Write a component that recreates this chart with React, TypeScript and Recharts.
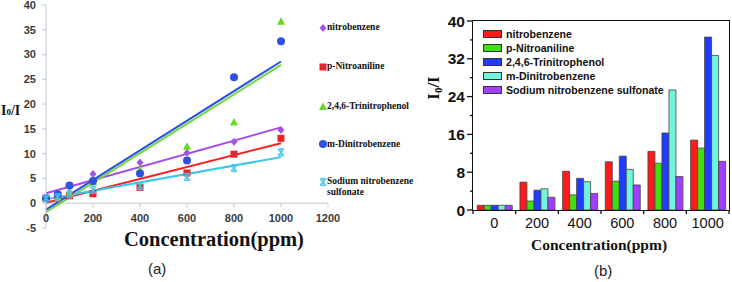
import React from 'react';
import { ComposedChart, Line, Scatter, XAxis, YAxis, ReferenceLine, BarChart, Bar } from 'recharts';

// concentrations (ppm) measured in panel (a)
const CONC = [0, 50, 100, 200, 400, 600, 800, 1000];
const NITROBENZENE = [1, 1.5, 3.4, 5.9, 8.2, 10.2, 12.4, 14.8];
const P_NITROANILINE = [1, 1.0, 1.5, 1.9, 3.2, 6.1, 9.9, 13.1];
const TRINITROPHENOL = [1, 1.2, 2.0, 4.2, 6.7, 11.4, 16.3, 36.6];
const M_DINITROBENZENE = [1, 1.8, 3.6, 4.5, 6.0, 8.6, 25.4, 32.7];
const SODIUM_SULFONATE = [1, 1.2, 1.8, 2.7, 3.5, 5.3, 7.1, 10.3];

// linear fits, at 0 and 1000 ppm
const FIT_X = [0, 1000];
const FIT_NITROBENZENE = [2.0, 15.3];
const FIT_P_NITROANILINE = [0.1, 12.1];
const FIT_TRINITROPHENOL = [-1.8, 27.9];
const FIT_M_DINITROBENZENE = [-1.3, 28.6];
const FIT_SODIUM_SULFONATE = [0.8, 9.3];

// panel (b) categories
const BAR_CONC = [0, 200, 400, 600, 800, 1000];

const X_TICKS_A = [0, 200, 400, 600, 800, 1000, 1200];
const Y_TICKS_A = [-5, 0, 5, 10, 15, 20, 25, 30, 35, 40];
const Y_TICKS_B = [0, 4, 8, 12, 16, 20, 24, 28, 32, 36, 40];

const NAMES = [
  'nitrobenzene',
  'p-Nitroaniline',
  '2,4,6-Trinitrophenol',
  'm-Dinitrobenzene',
  'Sodium nitrobenzene sulfonate',
];
const VALUES = [NITROBENZENE, P_NITROANILINE, TRINITROPHENOL, M_DINITROBENZENE, SODIUM_SULFONATE];
const FITS = [FIT_NITROBENZENE, FIT_P_NITROANILINE, FIT_TRINITROPHENOL, FIT_M_DINITROBENZENE, FIT_SODIUM_SULFONATE];

const A_COLORS = ['#a055e0', '#e8232b', '#5fdc1e', '#2e52e0', '#45c6e8'];
const A_LINE_COLORS = ['#a64bf0', '#ff1f1f', '#6cd83a', '#2f4fe0', '#3cc5e8'];
const B_COLORS = ['#ff1a1a', '#3ee00e', '#1f3cff', '#70f5dc', '#a040ff'];

const SERIF = '"Liberation Serif", "Times New Roman", serif';
const SANS = '"Liberation Sans", Arial, sans-serif';

const A_PLOT_H = 282 - 5 - 54;
const ZERO_OFFSET = (A_PLOT_H * 5) / 45;
const B_BAND = 256 / BAR_CONC.length;

const pointsOf = (vals: number[]) => CONC.map((x, i) => ({ x, y: vals[i] }));
const fitOf = (vals: number[]) => FIT_X.map((x, i) => ({ x, y: vals[i] }));

const barRows = BAR_CONC.map((c) => {
  const i = CONC.indexOf(c);
  const row: Record<string, any> = { c: String(c) };
  NAMES.forEach((n, k) => (row[n] = VALUES[k][i]));
  return row;
});

// markers, panel (a)
const Diamond = ({ cx, cy, fill }: any) => (
  <path d={`M${cx},${cy - 4}L${cx + 3.5},${cy}L${cx},${cy + 4}L${cx - 3.5},${cy}Z`} fill={fill} />
);
const Square = ({ cx, cy, fill }: any) => <rect x={cx - 3.5} y={cy - 3.5} width={7} height={7} fill={fill} />;
const Triangle = ({ cx, cy, fill }: any) => (
  <path d={`M${cx},${cy - 4.5}L${cx + 4},${cy + 3}L${cx - 4},${cy + 3}Z`} fill={fill} />
);
const Dot = ({ cx, cy, fill }: any) => <circle cx={cx} cy={cy} r={4} fill={fill} />;
const Star = ({ cx, cy, fill }: any) => (
  <g stroke={fill} strokeWidth={1.3}>
    <line x1={cx - 3} y1={cy - 3} x2={cx + 3} y2={cy + 3} />
    <line x1={cx - 3} y1={cy + 3} x2={cx + 3} y2={cy - 3} />
    <line x1={cx} y1={cy - 3.5} x2={cx} y2={cy + 3.5} />
    <line x1={cx - 2.5} y1={cy - 3.5} x2={cx + 2.5} y2={cy - 3.5} />
    <line x1={cx - 2.5} y1={cy + 3.5} x2={cx + 2.5} y2={cy + 3.5} />
  </g>
);
const SHAPES = [Diamond, Square, Triangle, Dot, Star];

const TickAX = ({ x, y, payload }: any) => {
  const y0 = y - ZERO_OFFSET;
  return (
    <g>
      <line x1={x} x2={x} y1={y0} y2={y0 + 4} stroke="#c3cad4" />
      <text x={x} y={y0 + 19} textAnchor="middle" fontFamily={SANS} fontWeight="bold" fontSize={11} fill="#3a3a3a">
        {payload.value}
      </text>
    </g>
  );
};

const TickBX = ({ x, y, payload, index }: any) => (
  <g>
    <line x1={x + B_BAND / 2} x2={x + B_BAND / 2} y1={y} y2={y + 4} stroke="#111" strokeWidth={1.3} />
    {index === 0 && <line x1={x - B_BAND / 2} x2={x - B_BAND / 2} y1={y} y2={y + 4} stroke="#111" strokeWidth={1.3} />}
    <text x={x} y={y + 18} textAnchor="middle" fontFamily={SANS} fontSize={14.5} fill="#111">
      {payload.value}
    </text>
  </g>
);

const TickBY = ({ x, y, payload }: any) => {
  const major = payload.value % 8 === 0;
  return (
    <g>
      <line x1={x - (major ? 6 : 3)} x2={x} y1={y} y2={y} stroke="#111" strokeWidth={1.3} />
      {major && (
        <text x={x - 8} y={y + 5.5} textAnchor="end" fontFamily={SANS} fontWeight="bold" fontSize={15.5} fill="#111">
          {payload.value}
        </text>
      )}
    </g>
  );
};

const abs = (left: number, top: number, extra: React.CSSProperties = {}): React.CSSProperties => ({
  position: 'absolute',
  left,
  top,
  whiteSpace: 'nowrap',
  lineHeight: 1,
  ...extra,
});

const LEGEND_A_TOP = [27.5, 66.5, 106.5, 144, 181.5];

const LegendA = () => (
  <>
    {NAMES.map((n, k) => {
      const Shape = SHAPES[k];
      const lines = k === 4 ? ['Sodium nitrobenzene', 'sulfonate'] : [n];
      return (
        <div key={n} style={abs(318, LEGEND_A_TOP[k] - 5, { fontFamily: SERIF, fontWeight: 'bold', fontSize: 9.5, color: '#111' })}>
          <svg width={10} height={10} style={{ position: 'absolute', left: 0, top: 0 }}>
            <Shape cx={5} cy={5} fill={A_COLORS[k]} />
          </svg>
          <div style={{ position: 'absolute', left: 9, top: 0.5 }}>
            {lines.map((t) => (
              <div key={t} style={{ height: 11 }}>{t}</div>
            ))}
          </div>
        </div>
      );
    })}
  </>
);

const LegendB = () => (
  <>
    {NAMES.map((n, k) => (
      <div key={n} style={abs(483, 28.5 + k * 14.2, { fontFamily: SANS, fontWeight: 'bold', fontSize: 10.6, color: '#111' })}>
        <div style={{ position: 'absolute', left: 0, top: 1, width: 19, height: 8, background: B_COLORS[k], border: '1px solid #333', boxSizing: 'border-box' }} />
        <div style={{ position: 'absolute', left: 23, top: 0 }}>{n}</div>
      </div>
    ))}
  </>
);

export default function App() {
  return (
    <div style={{ position: 'relative', width: 732, height: 282, background: '#fff', overflow: 'hidden' }}>
      <style>{'body{margin:0}'}</style>

      <div style={abs(0, 0)}>
        <ComposedChart width={340} height={282} margin={{ top: 5, right: 12, bottom: 0, left: 0 }}>
          <XAxis
            type="number"
            dataKey="x"
            domain={[0, 1200]}
            ticks={X_TICKS_A}
            interval={0}
            axisLine={false}
            tickLine={false}
            tickSize={0}
            tickMargin={0}
            height={54}
            tick={<TickAX />}
          />
          <YAxis
            type="number"
            dataKey="y"
            domain={[-5, 40]}
            ticks={Y_TICKS_A}
            interval={0}
            width={46}
            axisLine={{ stroke: '#c3cad4' }}
            tickLine={{ stroke: '#c3cad4' }}
            tickSize={4}
            tickMargin={6}
            tick={{ fontFamily: SANS, fontWeight: 'bold', fontSize: 11, fill: '#3a3a3a' }}
          />
          <ReferenceLine y={0} stroke="#c3cad4" />
          {FITS.map((f, k) => (
            <Line
              key={'fit' + k}
              data={fitOf(f)}
              dataKey="y"
              stroke={A_LINE_COLORS[k]}
              strokeWidth={2}
              dot={false}
              activeDot={false}
              legendType="none"
              isAnimationActive={false}
            />
          ))}
          {VALUES.map((v, k) => (
            <Scatter
              key={NAMES[k]}
              name={NAMES[k]}
              data={pointsOf(v)}
              fill={A_COLORS[k]}
              shape={SHAPES[k]}
              isAnimationActive={false}
            />
          ))}
        </ComposedChart>
      </div>

      <LegendA />

      <div style={abs(1, 104, { fontFamily: SERIF, fontWeight: 'bold', fontSize: 14, color: '#111' })}>
        I<span style={{ fontSize: 9 }}>0</span>/I
      </div>
      <div style={abs(124, 229, { fontFamily: SERIF, fontWeight: 'bold', fontSize: 20.5, color: '#111' })}>
        Concentration(ppm)
      </div>
      <div style={abs(148, 261, { fontFamily: SANS, fontSize: 15, color: '#222' })}>(a)</div>

      <div style={abs(400, 0)}>
        <BarChart
          width={332}
          height={282}
          data={barRows}
          margin={{ top: 21, right: 3, bottom: 0, left: 0 }}
          barCategoryGap="10%"
          barGap={0}
        >
          <XAxis
            dataKey="c"
            interval={0}
            axisLine={false}
            tickLine={false}
            tickSize={0}
            tickMargin={0}
            height={72}
            tick={<TickBX />}
          />
          <YAxis
            type="number"
            domain={[0, 40]}
            ticks={Y_TICKS_B}
            interval={0}
            width={73}
            axisLine={false}
            tickLine={false}
            tickSize={0}
            tickMargin={0}
            tick={<TickBY />}
          />
          {NAMES.map((n, k) => (
            <Bar key={n} dataKey={n} fill={B_COLORS[k]} stroke="#444" strokeWidth={0.8} isAnimationActive={false} />
          ))}
        </BarChart>
      </div>

      <div
        style={abs(472.3, 20.3, {
          width: 257.4,
          height: 190.4,
          border: '1.4px solid #111',
          boxSizing: 'border-box',
          pointerEvents: 'none',
        })}
      />

      <LegendB />

      <div
        style={abs(434, 88, {
          transform: 'translate(-50%, -50%) rotate(-90deg)',
          fontFamily: SERIF,
          fontWeight: 'bold',
          fontSize: 17,
          color: '#111',
        })}
      >
        I<span style={{ fontSize: 11, verticalAlign: -3 }}>0</span>/I
      </div>
      <div style={abs(531, 237, { fontFamily: SERIF, fontWeight: 'bold', fontSize: 15.5, color: '#111' })}>
        Concentration(ppm)
      </div>
      <div style={abs(594, 263, { fontFamily: SANS, fontSize: 15, color: '#222' })}>(b)</div>
    </div>
  );
}
